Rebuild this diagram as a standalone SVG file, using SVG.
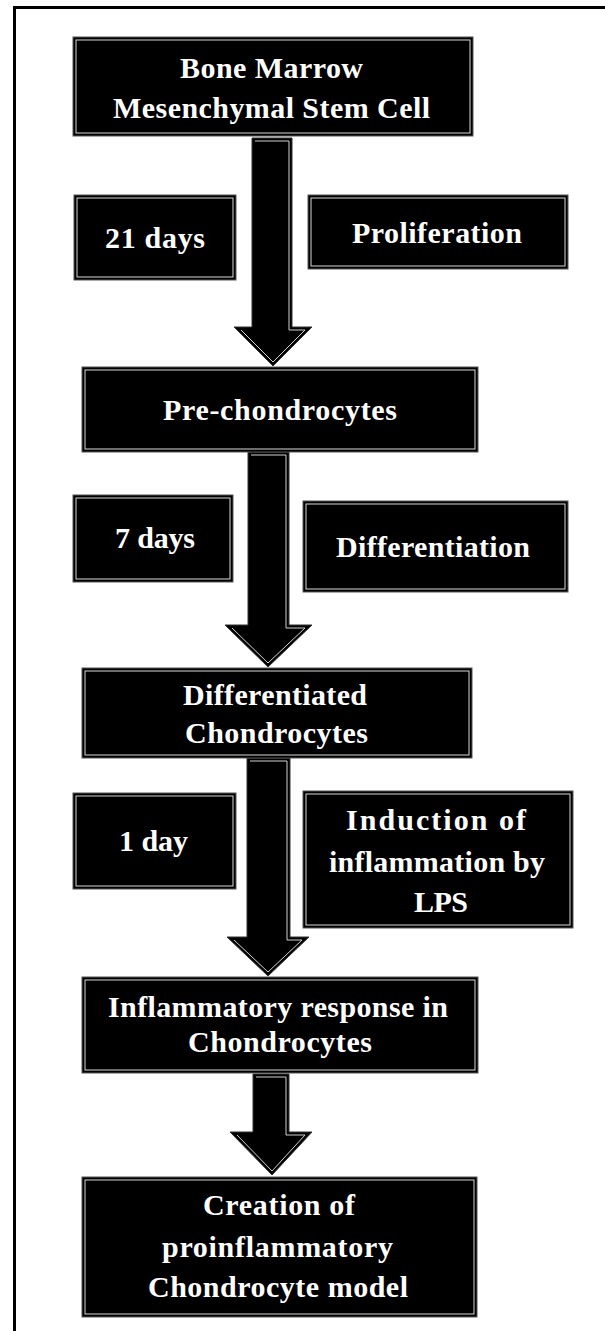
<svg xmlns="http://www.w3.org/2000/svg" width="605" height="1331" viewBox="0 0 605 1331">
<style>
.box{fill:#000;stroke:#555;stroke-width:1}
.inset{fill:none;stroke:#d8d8d8;stroke-width:1}
.arr{fill:#000;stroke:#333;stroke-width:1}
.arrin{fill:none;stroke:#d0d0d0;stroke-width:1}
.t{font-family:"Liberation Serif","Times New Roman",serif;font-weight:bold;font-size:30px;fill:#fff}
</style>
<rect width="605" height="1331" fill="#fff"/>
<path d="M14.5,1331 V7.5 H605" fill="none" stroke="#000" stroke-width="3"/>
<g id="connectors">
<polygon class="arr" points="252,138 292,138 292,327 312,327 273,366 234,327 252,327"/>
<polyline class="arrin" points="255,141 289,141 289,330 305,330 273,362 241,330"/>
<polygon class="arr" points="248,452 289,452 289,625 312,625 268,667 225,625 248,625"/>
<polyline class="arrin" points="251,455 286,455 286,628 305,628 268,663 232,628"/>
<polygon class="arr" points="247,758 290,758 290,937 309,937 268,976 227,937 247,937"/>
<polyline class="arrin" points="250,761 287,761 287,940 302,940 268,972 234,940"/>
<polygon class="arr" points="253,1074 289,1074 289,1132 312,1132 272,1175 230,1132 253,1132"/>
<polyline class="arrin" points="256,1077 286,1077 286,1135 305,1135 272,1171 237,1135"/>
</g>
<g id="n1">
<rect class="box" x="73" y="37" width="400" height="99"/>
<rect class="inset" x="76" y="40" width="394" height="93"/>
<text class="t" x="180" y="78" textLength="183" lengthAdjust="spacing">Bone Marrow</text>
<text class="t" x="113" y="118" textLength="317" lengthAdjust="spacing">Mesenchymal Stem Cell</text>
</g>
<g id="l1">
<rect class="box" x="74" y="195" width="162" height="85"/>
<rect class="inset" x="77" y="198" width="156" height="79"/>
<text class="t" x="105" y="248" textLength="100" lengthAdjust="spacing">21 days</text>
</g>
<g id="r1">
<rect class="box" x="308" y="195" width="260" height="74"/>
<rect class="inset" x="311" y="198" width="254" height="68"/>
<text class="t" x="352" y="243" textLength="170" lengthAdjust="spacing">Proliferation</text>
</g>
<g id="n2">
<rect class="box" x="82" y="367" width="396" height="85"/>
<rect class="inset" x="85" y="370" width="390" height="79"/>
<text class="t" x="163" y="420" textLength="234" lengthAdjust="spacing">Pre-chondrocytes</text>
</g>
<g id="l2">
<rect class="box" x="73" y="495" width="160" height="87"/>
<rect class="inset" x="76" y="498" width="154" height="81"/>
<text class="t" x="115" y="548" textLength="80" lengthAdjust="spacing">7 days</text>
</g>
<g id="r2">
<rect class="box" x="303" y="501" width="265" height="91"/>
<rect class="inset" x="306" y="504" width="259" height="85"/>
<text class="t" x="336" y="557" textLength="194" lengthAdjust="spacing">Differentiation</text>
</g>
<g id="n3">
<rect class="box" x="82" y="668" width="390" height="90"/>
<rect class="inset" x="85" y="671" width="384" height="84"/>
<text class="t" x="183" y="705" textLength="184" lengthAdjust="spacing">Differentiated</text>
<text class="t" x="185" y="743" textLength="183" lengthAdjust="spacing">Chondrocytes</text>
</g>
<g id="l3">
<rect class="box" x="73" y="793" width="163" height="96"/>
<rect class="inset" x="76" y="796" width="157" height="90"/>
<text class="t" x="119" y="851" textLength="69" lengthAdjust="spacing">1 day</text>
</g>
<g id="r3">
<rect class="box" x="303" y="791" width="270" height="137"/>
<rect class="inset" x="306" y="794" width="264" height="131"/>
<text class="t" x="346" y="830" textLength="180" lengthAdjust="spacing">Induction of</text>
<text class="t" x="329" y="872" textLength="216" lengthAdjust="spacing">inflammation by</text>
<text class="t" x="414" y="912" textLength="54" lengthAdjust="spacing">LPS</text>
</g>
<g id="n4">
<rect class="box" x="82" y="977" width="396" height="96"/>
<rect class="inset" x="85" y="980" width="390" height="90"/>
<text class="t" x="108" y="1017" textLength="340" lengthAdjust="spacing">Inflammatory response in</text>
<text class="t" x="188" y="1052" textLength="184" lengthAdjust="spacing">Chondrocytes</text>
</g>
<g id="n5">
<rect class="box" x="82" y="1177" width="395" height="140"/>
<rect class="inset" x="85" y="1180" width="389" height="134"/>
<text class="t" x="203" y="1215" textLength="152" lengthAdjust="spacing">Creation of</text>
<text class="t" x="162" y="1257" textLength="231" lengthAdjust="spacing">proinflammatory</text>
<text class="t" x="148" y="1297" textLength="260" lengthAdjust="spacing">Chondrocyte model</text>
</g>
</svg>
